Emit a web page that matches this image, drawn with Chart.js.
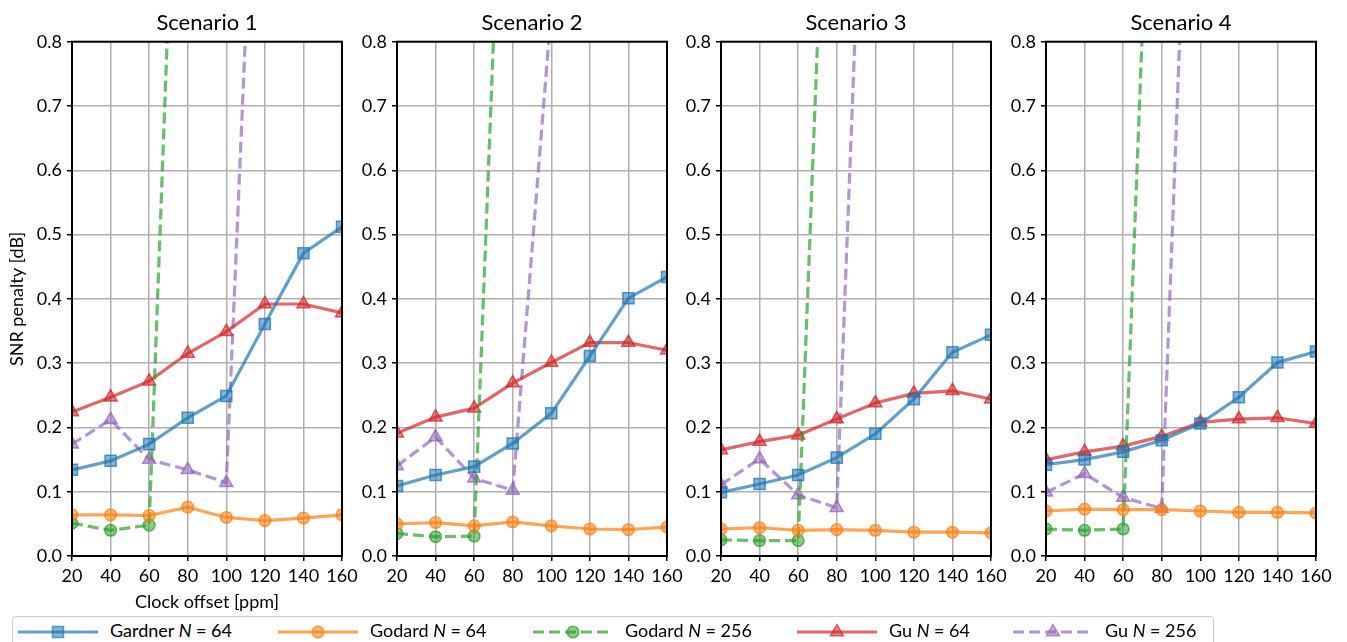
<!DOCTYPE html>
<html>
<head>
<meta charset="utf-8">
<script src="https://cdn.jsdelivr.net/npm/chart.js@4.4.1/dist/chart.umd.min.js"></script>
<style>
  html, body { margin: 0; padding: 0; background: #fff; overflow: hidden; }
  body { width: 1347px; height: 642px; position: relative; font-family: Lato, sans-serif; }
  canvas { position: absolute; top: 0; }
  #legend { position: absolute; left: 12px; top: 616px; width: 1200px; height: 40px;
            border: 1px solid #cccccc; border-radius: 4px; background: #fff; }
  .item { position: absolute; top: 0; height: 30px; white-space: nowrap; }
  .item svg { position: absolute; left: 0; top: 0; }
  .item span { position: absolute; top: 2px; font-size: 18px; color: #000; line-height: 22px; }
</style>
</head>
<body>
<canvas id="c0" width="414" height="615"></canvas>
<canvas id="c1" width="414" height="615"></canvas>
<canvas id="c2" width="414" height="615"></canvas>
<canvas id="c3" width="414" height="615"></canvas>
<div id="legend"></div>
<script>
// x values (clock offset, ppm)
const offsets = [20, 40, 60, 80, 100, 120, 140, 160];
const scenarioNames = ['Scenario 1', 'Scenario 2', 'Scenario 3', 'Scenario 4'];

// Scenario 1
const gardner1 = [0.134, 0.148, 0.174, 0.215, 0.249, 0.361, 0.471, 0.512];
const godard64_1 = [0.064, 0.064, 0.063, 0.076, 0.060, 0.055, 0.059, 0.064];
const godard256_1 = [0.051, 0.040, 0.048, 1.66];
const gu64_1 = [0.224, 0.247, 0.272, 0.315, 0.349, 0.392, 0.392, 0.378];
const gu256_1 = [0.174, 0.212, 0.150, 0.134, 0.114, 1.51];

// Scenario 2
const gardner2 = [0.109, 0.126, 0.139, 0.175, 0.222, 0.311, 0.401, 0.434];
const godard64_2 = [0.050, 0.052, 0.047, 0.053, 0.047, 0.042, 0.041, 0.045];
const godard256_2 = [0.035, 0.030, 0.031, 1.57];
const gu64_2 = [0.191, 0.216, 0.230, 0.269, 0.301, 0.332, 0.332, 0.320];
const gu256_2 = [0.140, 0.185, 0.121, 0.102, 0.85, 1.6];

// Scenario 3
const gardner3 = [0.099, 0.112, 0.126, 0.153, 0.190, 0.244, 0.317, 0.344];
const godard64_3 = [0.042, 0.044, 0.040, 0.041, 0.040, 0.037, 0.037, 0.036];
const godard256_3 = [0.025, 0.024, 0.024, 1.57];
const gu64_3 = [0.165, 0.178, 0.188, 0.213, 0.238, 0.253, 0.257, 0.244];
const gu256_3 = [0.111, 0.151, 0.095, 0.075, 1.62];

// Scenario 4
const gardner4 = [0.142, 0.150, 0.162, 0.180, 0.206, 0.247, 0.301, 0.318];
const godard64_4 = [0.070, 0.073, 0.072, 0.072, 0.070, 0.068, 0.068, 0.067];
const godard256_4 = [0.042, 0.040, 0.042, 1.6];
const gu64_4 = [0.150, 0.162, 0.171, 0.186, 0.208, 0.213, 0.215, 0.206];
const gu256_4 = [0.099, 0.128, 0.091, 0.074, 1.64];

const yTicks = [0, 0.1, 0.2, 0.3, 0.4, 0.5, 0.6, 0.7, 0.8];

const scenarios = [
  [gardner1, godard64_1, godard256_1, gu64_1, gu256_1],
  [gardner2, godard64_2, godard256_2, gu64_2, gu256_2],
  [gardner3, godard64_3, godard256_3, gu64_3, gu256_3],
  [gardner4, godard64_4, godard256_4, gu64_4, gu256_4]
];

// series look: name, colour, marker, dashed
const series = [
  { name: 'Gardner', n: '64', rgb: '31,119,180', marker: 'rect', r: 7.8, dashed: false },
  { name: 'Godard', n: '64', rgb: '255,127,14', marker: 'circle', r: 5.8, dashed: false },
  { name: 'Godard', n: '256', rgb: '44,160,44', marker: 'circle', r: 5.8, dashed: true },
  { name: 'Gu', n: '64', rgb: '214,39,40', marker: 'triangle', r: 7.5, dashed: false },
  { name: 'Gu', n: '256', rgb: '148,103,189', marker: 'triangle', r: 7.5, dashed: true }
];

Chart.defaults.font.family = 'Lato, sans-serif';
Chart.defaults.color = '#000';

const plotLefts = [72, 397, 721, 1046];
const LEFT = 72;

const frame = {
  id: 'frame',
  afterDatasetsDraw(chart) {
    const a = chart.chartArea, ctx = chart.ctx;
    ctx.save();
    ctx.strokeStyle = '#000';
    ctx.lineWidth = 2;
    ctx.strokeRect(a.left, a.top, a.right - a.left, a.bottom - a.top);
    ctx.restore();
  }
};

scenarios.forEach((vals, i) => {
  const canvas = document.getElementById('c' + i);
  canvas.style.left = (plotLefts[i] - LEFT) + 'px';
  const datasets = series.map((s, k) => ({
    label: s.name + ' N = ' + s.n,
    data: vals[k].map((v, j) => ({ x: offsets[j], y: v })),
    borderColor: 'rgba(' + s.rgb + ',0.7)',
    backgroundColor: 'rgba(' + s.rgb + ',0.55)',
    borderWidth: 3.2,
    borderDash: s.dashed ? [11, 5] : [],
    pointStyle: s.marker,
    pointRadius: s.r,
    pointBorderWidth: 1.5,
    pointBorderColor: 'rgba(' + s.rgb + ',0.75)',
    pointBackgroundColor: 'rgba(' + s.rgb + ',0.55)',
    tension: 0,
    clip: 0
  }));
  new Chart(canvas.getContext('2d'), {
    type: 'line',
    data: { datasets },
    options: {
      responsive: false,
      animation: false,
      devicePixelRatio: 1,
      layout: { padding: 0 },
      plugins: {
        legend: { display: false },
        tooltip: { enabled: false },
        title: {
          display: true,
          text: scenarioNames[i],
          font: { size: 22, weight: 'normal', lineHeight: 1.2 },
          padding: { top: 9.5, bottom: 5.8 }
        }
      },
      scales: {
        x: {
          type: 'linear',
          min: 20, max: 160,
          afterBuildTicks: sc => { sc.ticks = offsets.map(v => ({ value: v })); },
          afterFit: sc => { sc.height = 59; },
          ticks: { font: { size: 18 }, padding: 4, maxRotation: 0, autoSkip: false },
          grid: { color: '#b0b0b0', lineWidth: 1.5, tickColor: '#000', tickLength: 5, tickWidth: 1.5 },
          border: { display: false },
          title: { display: i === 0, text: 'Clock offset [ppm]', font: { size: 18 }, padding: { top: 0, bottom: 2.2 } }
        },
        y: {
          min: 0, max: 0.8,
          afterBuildTicks: sc => { sc.ticks = yTicks.map(v => ({ value: v })); },
          afterFit: sc => { sc.width = LEFT; },
          ticks: { font: { size: 18 }, padding: 5, callback: v => v.toFixed(1) },
          grid: { color: '#b0b0b0', lineWidth: 1.5, tickColor: '#000', tickLength: 5, tickWidth: 1.5 },
          border: { display: false },
          title: { display: i === 0, text: 'SNR penalty [dB]', font: { size: 18 }, padding: { top: 6.7, bottom: 0 } }
        },
        // empty right-hand spacer so the title centres over the plot
        spacer: {
          type: 'linear',
          position: 'right',
          min: 0, max: 1,
          afterFit: sc => { sc.width = LEFT; },
          ticks: { display: false },
          grid: { display: false, drawOnChartArea: false },
          border: { display: false }
        }
      }
    },
    plugins: [frame]
  });
});

// legend (HTML, so the italic N stays real text)
const legendLineX = [5, 265, 520, 784, 1000];
const legend = document.getElementById('legend');
series.forEach((s, k) => {
  const item = document.createElement('div');
  item.className = 'item';
  item.style.left = legendLineX[k] + 'px';
  const col = 'rgba(' + s.rgb + ',0.7)';
  const fill = 'rgba(' + s.rgb + ',0.55)';
  const dash = s.dashed ? ' stroke-dasharray="11 5"' : '';
  let mk;
  if (s.marker === 'rect') mk = '<rect x="34.5" y="9.5" width="11" height="11" fill="' + fill + '" stroke="' + col + '" stroke-width="1.5"/>';
  else if (s.marker === 'circle') mk = '<circle cx="40" cy="15" r="5.8" fill="' + fill + '" stroke="' + col + '" stroke-width="1.5"/>';
  else mk = '<polygon points="40,7.5 46.5,18.8 33.5,18.8" fill="' + fill + '" stroke="' + col + '" stroke-width="1.5"/>';
  item.innerHTML = '<svg width="80" height="30"><line x1="0" y1="15" x2="80" y2="15" stroke="' + col + '" stroke-width="3.2"' + dash + '/>' + mk + '</svg>' +
    '<span style="left:92px">' + s.name + ' <i>N</i> = ' + s.n + '</span>';
  legend.appendChild(item);
});
</script>
</body>
</html>
